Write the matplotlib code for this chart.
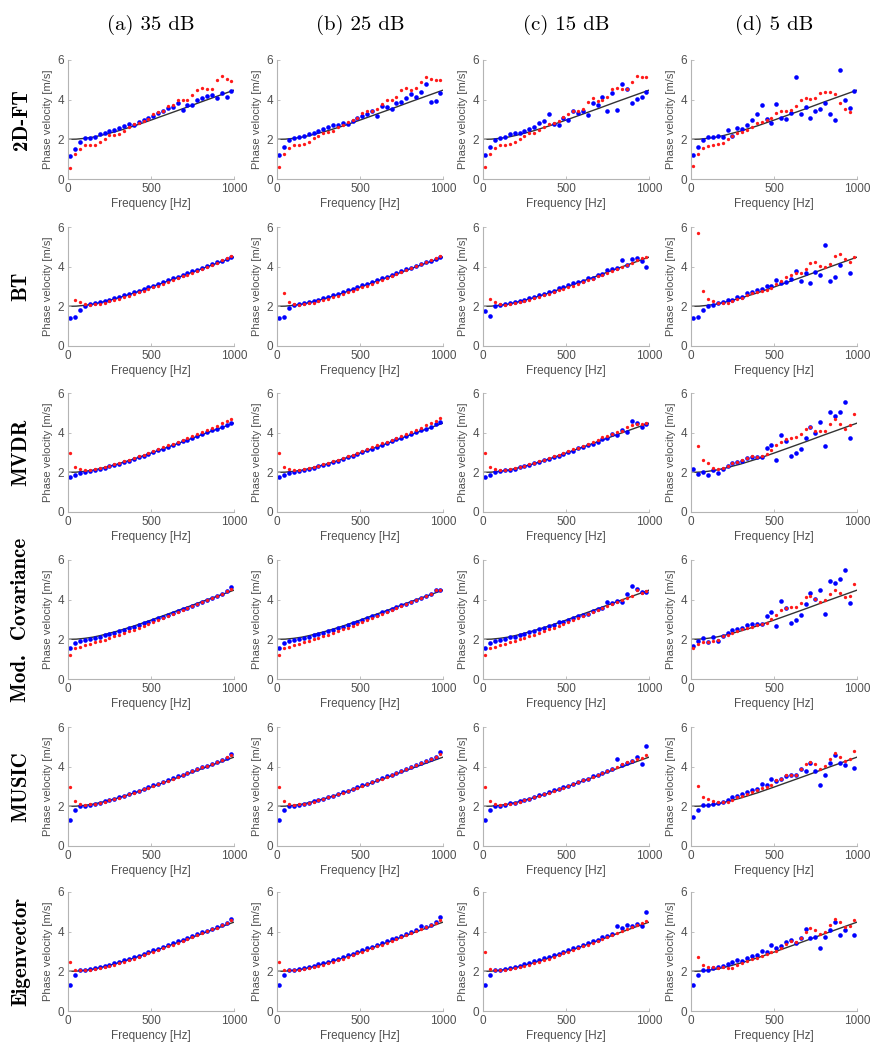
import numpy as np
import matplotlib.pyplot as plt

nan = np.nan

# frequency bins of the estimates [Hz]
freq = [14, 43, 73, 102, 131, 161, 190, 220, 249, 279, 308, 337, 367, 396, 425, 455, 484,
        514, 543, 572, 602, 631, 661, 690, 719, 749, 778, 808, 837, 866, 896, 925, 955, 984]

# theoretical dispersion curve
theory_f = [0, 50, 100, 150, 200, 250, 300, 400, 500, 600, 700, 800, 900, 1000]
theory_v = [2.00, 2.01, 2.05, 2.11, 2.20, 2.31, 2.42, 2.68, 2.97, 3.27, 3.57, 3.88, 4.18, 4.48]

# ---- 2D-FT
fft_35_blue = [1.16, 1.53, 1.89, 2.09, 2.07, 2.14, 2.26, 2.33, 2.40, 2.48, 2.57, 2.69, 2.77, 2.74, 2.86, 2.99, 3.08,
               3.20, 3.32, 3.45, 3.57, 3.62, 3.83, 3.47, 3.71, 3.71, 3.96, 4.10, 4.18, 4.22, 4.06, 4.34, 4.13, 4.42]
fft_35_red = [0.56, 1.24, 1.53, 1.70, 1.70, 1.72, 1.87, 2.04, 2.21, 2.23, 2.26, 2.40, 2.64, 2.77, 2.84, 2.94, 3.03,
              3.28, 3.40, 3.45, 3.66, 3.72, 3.96, 3.96, 3.96, 4.22, 4.47, 4.61, 4.52, 4.52, 4.98, 5.19, 5.02, 4.95]
fft_25_blue = [1.21, 1.60, 1.97, 2.05, 2.13, 2.17, 2.25, 2.34, 2.42, 2.52, 2.61, 2.72, 2.72, 2.84, 2.76, 2.94, 3.06,
               3.18, 3.28, 3.45, 3.20, 3.68, 3.65, 3.51, 3.85, 3.90, 4.07, 4.29, 4.15, 4.37, 4.77, 3.90, 3.95, 4.35]
fft_25_red = [0.62, 1.26, 1.55, 1.71, 1.71, 1.75, 1.88, 2.05, 2.17, 2.30, 2.35, 2.44, 2.64, 2.72, 2.86, 2.97, 3.06,
              3.31, 3.43, 3.43, 3.53, 3.78, 3.98, 3.98, 4.15, 4.48, 4.57, 4.48, 4.60, 4.90, 5.12, 5.02, 4.99, 4.99]
fft_15_blue = [1.21, 1.60, 1.97, 2.05, 2.13, 2.25, 2.34, 2.34, 2.42, 2.50, 2.61, 2.84, 2.92, 3.26, 2.77, 2.72, 3.06,
               2.97, 3.45, 3.31, 3.45, 3.21, 3.82, 3.73, 4.15, 3.45, 4.32, 3.48, 4.77, 4.55, 3.82, 4.03, 4.12, 4.40]
fft_15_red = [0.62, 1.26, 1.55, 1.71, 1.71, 1.75, 1.88, 2.00, 2.17, 2.30, 2.34, 2.47, 2.64, 2.79, 2.84, 2.94, 3.11,
              3.28, 3.41, 3.43, 3.51, 3.87, 4.07, 3.95, 3.98, 4.15, 4.54, 4.60, 4.52, 4.52, 4.87, 5.19, 5.12, 5.15]
fft_5_blue = [1.21, 1.60, 1.97, 2.13, 2.13, 2.17, 2.13, 2.47, 2.17, 2.55, 2.50, 2.72, 2.97, 3.26, 3.73, 3.01, 2.84,
              3.78, 3.06, 3.03, 3.31, 5.16, 3.28, 3.61, 3.06, 3.43, 3.55, 3.82, 3.28, 2.97, 5.50, 3.98, 3.60, 4.44]
fft_5_red = [0.67, 1.26, 1.55, 1.66, 1.71, 1.76, 1.83, 2.02, 2.17, 2.30, 2.39, 2.47, 2.61, 2.81, 2.89, 2.97, 3.06,
             3.31, 3.43, 3.45, 3.48, 3.68, 3.98, 4.07, 4.03, 4.10, 4.32, 4.40, 4.40, 4.29, 3.85, 3.51, 3.39, nan]

# ---- BT
bt_35_blue = [1.40, 1.45, 1.80, 2.04, 2.10, 2.15, 2.20, 2.27, 2.34, 2.41, 2.48, 2.56, 2.63, 2.71, 2.79, 2.88, 2.96,
              3.05, 3.14, 3.23, 3.32, 3.41, 3.49, 3.58, 3.67, 3.76, 3.85, 3.95, 4.04, 4.13, 4.22, 4.30, 4.39, 4.48]
bt_35_red = [nan, 2.32, 2.20, 2.12, 2.08, 2.10, 2.14, 2.19, 2.25, 2.32, 2.39, 2.46, 2.54, 2.62, 2.70, 2.79, 2.87,
             2.96, 3.05, 3.14, 3.23, 3.32, 3.41, 3.51, 3.60, 3.70, 3.80, 3.90, 4.00, 4.10, 4.21, 4.32, 4.42, 4.52]
bt_25_blue = [1.40, 1.45, 1.90, 2.05, 2.11, 2.15, 2.21, 2.27, 2.34, 2.42, 2.49, 2.56, 2.64, 2.72, 2.80, 2.88, 2.97,
              3.06, 3.15, 3.24, 3.32, 3.41, 3.50, 3.59, 3.68, 3.77, 3.86, 3.95, 4.05, 4.13, 4.22, 4.31, 4.40, 4.50]
bt_25_red = [nan, 2.65, 2.22, 2.12, 2.08, 2.11, 2.15, 2.19, 2.26, 2.32, 2.39, 2.47, 2.54, 2.62, 2.71, 2.79, 2.88,
             2.96, 3.05, 3.14, 3.24, 3.33, 3.42, 3.51, 3.61, 3.71, 3.81, 3.91, 4.01, 4.11, 4.22, 4.33, 4.44, 4.55]
bt_15_blue = [1.75, 1.50, 2.00, 2.05, 2.10, 2.15, 2.20, 2.27, 2.33, 2.40, 2.47, 2.55, 2.62, 2.70, 2.78, 2.90, 2.95,
              3.10, 3.18, 3.25, 3.30, 3.45, 3.42, 3.60, 3.65, 3.85, 3.90, 3.95, 4.35, 4.10, 4.40, 4.45, 4.30, 4.00]
bt_15_red = [nan, 2.35, 2.20, 2.10, 2.08, 2.12, 2.15, 2.20, 2.28, 2.34, 2.40, 2.48, 2.55, 2.62, 2.72, 2.80, 2.88,
             2.98, 3.05, 3.15, 3.25, 3.33, 3.40, 3.52, 3.60, 3.70, 3.80, 3.90, 4.00, 4.10, 4.20, 4.35, 4.45, 4.50]
bt_5_blue = [1.40, 1.45, 1.81, 2.04, 2.06, 2.15, 2.20, 2.31, 2.31, 2.48, 2.48, 2.65, 2.74, 2.84, 2.85, 3.01, 3.04,
             3.34, 3.18, 3.21, 3.38, 3.80, 3.29, 3.68, 3.18, 3.75, 3.58, 5.10, 3.29, 3.46, 4.07, nan, 3.67, nan]
bt_5_red = [nan, 5.71, 2.75, 2.36, 2.28, 2.15, 2.16, 2.15, 2.25, 2.36, 2.42, 2.57, 2.67, 2.70, 2.79, 2.82, 2.91,
            3.13, 3.29, 3.50, 3.60, 3.68, 3.67, 3.89, 4.17, 4.22, 4.05, 3.97, 4.14, 4.56, 4.65, 4.39, 4.26, 4.51]

# ---- MVDR
mvdr_35_blue = [1.75, 1.85, 1.98, 2.03, 2.07, 2.12, 2.17, 2.23, 2.30, 2.37, 2.44, 2.51, 2.59, 2.67, 2.75, 2.84, 2.93,
                3.02, 3.11, 3.20, 3.29, 3.38, 3.47, 3.56, 3.65, 3.74, 3.84, 3.93, 4.02, 4.11, 4.20, 4.30, 4.39, 4.48]
mvdr_35_red = [2.95, 2.25, 2.15, 2.12, 2.12, 2.15, 2.20, 2.26, 2.33, 2.40, 2.47, 2.55, 2.63, 2.71, 2.80, 2.89, 2.98,
               3.07, 3.17, 3.26, 3.36, 3.45, 3.55, 3.65, 3.74, 3.84, 3.94, 4.04, 4.14, 4.25, 4.36, 4.47, 4.58, 4.70]
mvdr_25_blue = [1.75, 1.85, 1.98, 2.03, 2.08, 2.12, 2.17, 2.24, 2.30, 2.37, 2.44, 2.52, 2.59, 2.67, 2.76, 2.84, 2.93,
                3.02, 3.11, 3.20, 3.29, 3.38, 3.47, 3.56, 3.66, 3.75, 3.84, 3.93, 4.03, 4.12, 4.21, 4.31, 4.42, 4.52]
mvdr_25_red = [2.95, 2.25, 2.16, 2.12, 2.12, 2.15, 2.20, 2.26, 2.33, 2.40, 2.48, 2.55, 2.63, 2.72, 2.80, 2.89, 2.98,
               3.08, 3.17, 3.27, 3.36, 3.46, 3.55, 3.65, 3.75, 3.85, 3.95, 4.05, 4.15, 4.26, 4.37, 4.48, 4.60, 4.72]
mvdr_15_blue = [1.75, 1.85, 2.00, 2.05, 2.10, 2.12, 2.17, 2.25, 2.30, 2.38, 2.45, 2.50, 2.60, 2.66, 2.75, 2.82, 2.93,
                3.05, 3.10, 3.22, 3.28, 3.40, 3.45, 3.55, 3.70, 3.75, 3.92, 3.90, 4.15, 4.05, 4.60, 4.50, 4.30, 4.45]
mvdr_15_red = [2.95, 2.25, 2.15, 2.12, 2.12, 2.15, 2.20, 2.25, 2.33, 2.40, 2.47, 2.55, 2.62, 2.71, 2.80, 2.88, 2.97,
               3.07, 3.16, 3.25, 3.35, 3.44, 3.54, 3.63, 3.80, 3.85, 3.95, 4.05, 4.10, 4.30, 4.40, 4.45, 4.45, 4.50]
mvdr_5_blue = [2.16, 1.94, 2.04, 1.89, 2.11, 1.96, 2.19, 2.33, 2.46, 2.53, 2.58, 2.70, 2.78, 2.78, 2.78, 3.25, 3.37,
               2.63, 3.90, 3.56, 2.83, 3.00, 3.20, 3.73, 4.27, 3.96, 4.55, 3.31, 5.02, 4.86, 5.06, 5.53, 3.73, nan]
mvdr_5_red = [nan, 3.34, 2.61, 2.45, 2.24, 2.19, 2.21, 2.33, 2.45, 2.53, 2.61, 2.71, 2.80, 2.75, 2.83, 2.92, 3.14,
              3.37, 3.54, 3.68, 3.71, 3.76, 3.93, 4.18, 4.27, 4.10, 4.06, 4.10, 4.43, 4.69, 4.43, 4.18, 4.38, 4.94]

# ---- Mod. Covariance
mcov_35_blue = [1.55, 1.80, 1.90, 1.97, 2.03, 2.08, 2.14, 2.20, 2.26, 2.33, 2.40, 2.48, 2.55, 2.63, 2.71, 2.80, 2.88,
                2.97, 3.06, 3.15, 3.24, 3.33, 3.42, 3.51, 3.60, 3.70, 3.79, 3.88, 3.98, 4.08, 4.18, 4.28, 4.42, 4.65]
mcov_35_red = [1.20, 1.55, 1.62, 1.70, 1.78, 1.85, 1.92, 1.99, 2.07, 2.15, 2.23, 2.31, 2.40, 2.49, 2.58, 2.68, 2.77,
               2.87, 2.97, 3.07, 3.17, 3.27, 3.37, 3.47, 3.57, 3.67, 3.77, 3.87, 3.97, 4.08, 4.19, 4.30, 4.42, 4.55]
mcov_25_blue = [1.55, 1.80, 1.90, 1.97, 2.03, 2.08, 2.14, 2.20, 2.27, 2.34, 2.41, 2.48, 2.56, 2.64, 2.72, 2.80, 2.89,
                2.98, 3.07, 3.16, 3.25, 3.36, 3.43, 3.52, 3.62, 3.71, 3.80, 3.90, 3.99, 4.09, 4.18, 4.28, 4.48, 4.50]
mcov_25_red = [1.20, 1.55, 1.62, 1.70, 1.78, 1.85, 1.92, 2.00, 2.08, 2.16, 2.24, 2.32, 2.41, 2.50, 2.59, 2.68, 2.78,
               2.87, 2.97, 3.07, 3.17, 3.27, 3.37, 3.47, 3.57, 3.67, 3.77, 3.87, 3.98, 4.08, 4.19, 4.30, 4.50, 4.48]
mcov_15_blue = [1.55, 1.80, 1.90, 1.97, 2.03, 2.10, 2.14, 2.22, 2.27, 2.36, 2.40, 2.50, 2.55, 2.65, 2.72, 2.85, 2.88,
                3.00, 3.08, 3.20, 3.25, 3.30, 3.45, 3.55, 3.60, 3.90, 3.85, 3.95, 3.90, 4.30, 4.70, 4.55, 4.40, 4.40]
mcov_15_red = [1.20, 1.55, 1.62, 1.70, 1.78, 1.85, 1.92, 2.00, 2.08, 2.16, 2.24, 2.32, 2.41, 2.50, 2.59, 2.68, 2.78,
               2.87, 2.97, 3.07, 3.17, 3.27, 3.37, 3.47, 3.57, 3.67, 3.77, 3.90, 3.98, 4.08, 4.20, 4.50, 4.35, 4.45]
mcov_5_blue = [1.68, 1.94, 2.07, 1.87, 2.11, 1.94, 2.19, 2.33, 2.46, 2.50, 2.58, 2.70, 2.75, 2.75, 2.75, 3.20, 3.38,
               2.65, 3.93, 3.59, 2.83, 2.95, 3.25, 3.76, 4.35, 4.05, 4.47, 3.30, 4.94, 4.86, 5.02, 5.48, 3.81, nan]
mcov_5_red = [1.57, 1.74, 1.87, 1.87, 1.94, 1.99, 2.16, 2.24, 2.33, 2.41, 2.50, 2.58, 2.63, 2.70, 2.75, 2.83, 3.04,
              3.25, 3.46, 3.56, 3.63, 3.64, 3.85, 4.13, 4.18, 4.01, 3.88, 3.98, 4.27, 4.47, 4.35, 4.13, 4.18, 4.81]

# ---- MUSIC
music_35_blue = [1.30, 1.80, 2.00, 2.04, 2.09, 2.14, 2.19, 2.25, 2.32, 2.39, 2.46, 2.54, 2.62, 2.70, 2.79, 2.88, 2.97,
                 3.06, 3.15, 3.24, 3.33, 3.42, 3.51, 3.60, 3.69, 3.78, 3.87, 3.96, 4.05, 4.14, 4.23, 4.33, 4.45, 4.65]
music_35_red = [2.95, 2.25, 2.10, 2.08, 2.10, 2.14, 2.18, 2.24, 2.30, 2.37, 2.44, 2.52, 2.60, 2.68, 2.76, 2.85, 2.94,
                3.03, 3.12, 3.21, 3.30, 3.39, 3.49, 3.58, 3.67, 3.77, 3.86, 3.96, 4.05, 4.15, 4.25, 4.35, 4.47, 4.60]
music_25_blue = [1.30, 1.80, 2.00, 2.04, 2.09, 2.14, 2.19, 2.26, 2.32, 2.39, 2.47, 2.54, 2.62, 2.71, 2.79, 2.88, 2.97,
                 3.06, 3.15, 3.24, 3.33, 3.42, 3.51, 3.60, 3.70, 3.79, 3.88, 3.97, 4.10, 4.16, 4.28, 4.38, 4.50, 4.75]
music_25_red = [2.95, 2.25, 2.10, 2.08, 2.10, 2.14, 2.18, 2.24, 2.30, 2.37, 2.45, 2.52, 2.60, 2.68, 2.77, 2.85, 2.94,
                3.03, 3.12, 3.21, 3.31, 3.40, 3.49, 3.59, 3.68, 3.78, 3.88, 3.97, 4.07, 4.17, 4.27, 4.38, 4.50, 4.62]
music_15_blue = [1.30, 1.80, 2.00, 2.04, 2.09, 2.15, 2.19, 2.26, 2.33, 2.38, 2.47, 2.55, 2.62, 2.70, 2.80, 2.88, 2.98,
                 3.05, 3.15, 3.25, 3.33, 3.40, 3.52, 3.60, 3.68, 3.80, 3.90, 4.40, 4.10, 4.20, 4.30, 4.50, 4.15, 5.05]
music_15_red = [2.95, 2.25, 2.10, 2.08, 2.10, 2.14, 2.18, 2.24, 2.30, 2.37, 2.45, 2.52, 2.60, 2.68, 2.77, 2.85, 2.94,
                3.03, 3.12, 3.21, 3.31, 3.40, 3.49, 3.59, 3.68, 3.78, 3.88, 3.97, 4.15, 4.25, 4.30, 4.40, 4.45, 4.60]
music_5_blue = [1.44, 1.84, 2.09, 2.06, 2.14, 2.19, 2.23, 2.31, 2.45, 2.53, 2.61, 2.73, 2.81, 2.86, 3.15, 3.07, 3.37,
                3.28, 3.40, 3.53, 3.56, 3.56, 3.87, 3.77, 4.19, 3.79, 3.10, 3.60, 4.21, 4.61, 4.16, 4.10, nan, 3.94]
music_5_red = [nan, 3.02, 2.48, 2.36, 2.28, 2.23, 2.23, 2.24, 2.31, 2.45, 2.53, 2.60, 2.73, 2.81, 2.90, 2.98, 3.07,
               3.32, 3.40, 3.60, 3.60, 3.60, 3.87, 4.12, 4.24, 4.12, 3.90, 4.04, 4.41, 4.67, 4.50, 4.29, 4.37, 4.79]

# ---- Eigenvector
eig_35_blue = [1.32, 1.82, 2.05, 2.08, 2.12, 2.16, 2.21, 2.27, 2.34, 2.41, 2.48, 2.55, 2.63, 2.71, 2.79, 2.88, 2.97,
               3.06, 3.15, 3.24, 3.33, 3.42, 3.51, 3.60, 3.69, 3.78, 3.87, 3.96, 4.05, 4.14, 4.24, 4.34, 4.45, 4.65]
eig_35_red = [2.45, 2.07, 2.05, 2.06, 2.08, 2.12, 2.16, 2.21, 2.27, 2.34, 2.41, 2.48, 2.56, 2.64, 2.72, 2.81, 2.90,
              2.99, 3.08, 3.17, 3.26, 3.35, 3.44, 3.54, 3.63, 3.72, 3.82, 3.92, 4.01, 4.11, 4.21, 4.32, 4.44, 4.58]
eig_25_blue = [1.32, 1.82, 2.05, 2.08, 2.12, 2.17, 2.22, 2.28, 2.35, 2.42, 2.49, 2.56, 2.64, 2.72, 2.80, 2.89, 2.98,
               3.07, 3.16, 3.25, 3.34, 3.43, 3.52, 3.61, 3.70, 3.79, 3.88, 3.97, 4.07, 4.30, 4.25, 4.36, 4.50, 4.75]
eig_25_red = [2.45, 2.07, 2.05, 2.06, 2.08, 2.12, 2.16, 2.21, 2.27, 2.34, 2.41, 2.48, 2.56, 2.64, 2.72, 2.81, 2.90,
              2.99, 3.08, 3.17, 3.26, 3.35, 3.44, 3.54, 3.63, 3.72, 3.82, 3.92, 4.02, 4.12, 4.22, 4.33, 4.45, 4.60]
eig_15_blue = [1.32, 1.82, 2.05, 2.08, 2.12, 2.18, 2.22, 2.28, 2.36, 2.42, 2.50, 2.56, 2.65, 2.72, 2.82, 2.89, 3.00,
               3.07, 3.17, 3.25, 3.35, 3.43, 3.55, 3.60, 3.72, 3.80, 3.90, 4.30, 4.20, 4.35, 4.30, 4.40, 4.30, 5.00]
eig_15_red = [2.95, 2.10, 2.05, 2.06, 2.08, 2.12, 2.16, 2.21, 2.27, 2.34, 2.41, 2.48, 2.56, 2.64, 2.72, 2.81, 2.90,
              2.99, 3.08, 3.17, 3.26, 3.35, 3.44, 3.54, 3.63, 3.72, 3.82, 3.92, 4.05, 4.15, 4.25, 4.35, 4.45, 4.55]
eig_5_blue = [1.30, 1.80, 2.08, 2.05, 2.17, 2.20, 2.27, 2.35, 2.45, 2.55, 2.53, 2.68, 2.75, 2.80, 3.05, 3.00, 3.35,
              3.20, 3.30, 3.50, 3.58, 3.45, 3.70, 4.15, 3.70, 3.75, 3.20, 3.75, 4.10, 4.50, 3.85, 4.10, nan, 3.82]
eig_5_red = [nan, 2.70, 2.30, 2.20, 2.20, 2.18, 2.20, 2.15, 2.18, 2.30, 2.42, 2.50, 2.60, 2.68, 2.78, 2.85, 2.95,
             3.05, 3.20, 3.40, 3.55, 3.50, 3.70, 4.00, 4.20, 4.10, 3.90, 4.00, 4.35, 4.65, 4.50, 4.25, 4.30, 4.60]

methods = ["2D-FT", "BT", "MVDR", "Mod.  Covariance", "MUSIC", "Eigenvector"]
snr_titles = ["(a) 35 dB", "(b) 25 dB", "(c) 15 dB", "(d) 5 dB"]

panels = [
    [(fft_35_blue, fft_35_red), (fft_25_blue, fft_25_red), (fft_15_blue, fft_15_red), (fft_5_blue, fft_5_red)],
    [(bt_35_blue, bt_35_red), (bt_25_blue, bt_25_red), (bt_15_blue, bt_15_red), (bt_5_blue, bt_5_red)],
    [(mvdr_35_blue, mvdr_35_red), (mvdr_25_blue, mvdr_25_red), (mvdr_15_blue, mvdr_15_red), (mvdr_5_blue, mvdr_5_red)],
    [(mcov_35_blue, mcov_35_red), (mcov_25_blue, mcov_25_red), (mcov_15_blue, mcov_15_red), (mcov_5_blue, mcov_5_red)],
    [(music_35_blue, music_35_red), (music_25_blue, music_25_red), (music_15_blue, music_15_red), (music_5_blue, music_5_red)],
    [(eig_35_blue, eig_35_red), (eig_25_blue, eig_25_red), (eig_15_blue, eig_15_red), (eig_5_blue, eig_5_red)],
]

plt.rcParams['font.family'] = ['Liberation Sans', 'DejaVu Sans']

W, H = 880, 1050
fig = plt.figure(figsize=(W / 100, H / 100), dpi=100)

# axes boxes in pixels
col_left = [68, 277, 483, 691]
ax_w = 166
ax_h = 119
row_top = [60, 227, 393, 560, 727, 892]

gray = '#505050'
spine = '#b4b4b4'

for r in range(6):
    for c in range(4):
        blue, red = panels[r][c]
        ax = fig.add_axes([col_left[c] / W, 1 - (row_top[r] + ax_h) / H, ax_w / W, ax_h / H])
        ax.plot(theory_f, theory_v, color='#333333', lw=1.0, zorder=1)
        ax.plot(freq, blue, 'o', color='#0000ff', ms=3.3, mec='none', zorder=2)
        ax.plot(freq, red, 'o', color='#ff1a1a', ms=2.4, mec='none', zorder=3)
        ax.set_xlim(0, 1000)
        ax.set_ylim(0, 6)
        ax.set_xticks([0, 500, 1000])
        ax.set_yticks([0, 2, 4, 6])
        ax.spines['top'].set_visible(False)
        ax.spines['right'].set_visible(False)
        for s in ['left', 'bottom']:
            ax.spines[s].set_color(spine)
            ax.spines[s].set_linewidth(0.8)
        ax.tick_params(direction='in', length=2.5, width=0.6, color=spine,
                       labelsize=8.5, labelcolor=gray, pad=3)
        ax.set_xlabel('Frequency [Hz]', fontsize=8.5, color=gray, labelpad=2)
        ax.set_ylabel('Phase velocity [m/s]', fontsize=8, color=gray, labelpad=3)

        if r == 0:
            fig.text((col_left[c] + ax_w / 2) / W, 1 - 25 / H, snr_titles[c],
                     ha='center', va='center', fontsize=15, family='cmr10')
    fig.text(21 / W, 1 - (row_top[r] + ax_h / 2) / H, methods[r], rotation=90,
             ha='center', va='center', fontsize=15, family='cmb10')

fig.savefig('out.png', dpi=100)
